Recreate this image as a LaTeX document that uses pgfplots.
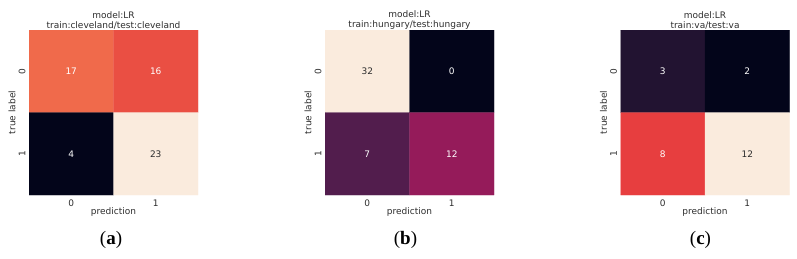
\documentclass[border=0pt]{standalone}
\usepackage{pgfplots}
\pgfplotsset{compat=1.18}
\usepackage{fontspec}
\setmainfont{DejaVu Sans}
\newfontfamily\capfont{Liberation Serif}
\definecolor{txt}{RGB}{45,45,45}
\newcommand{\ff}{\fontsize{9}{10}\selectfont}
\pgfplotsset{
  colormap={rocket}{rgb255=(3,5,26) rgb255=(34,19,49) rgb255=(75,28,75) rgb255=(113,31,87) rgb255=(161,26,91) rgb255=(203,27,79) rgb255=(231,62,63) rgb255=(242,115,77) rgb255=(246,156,115) rgb255=(247,199,168) rgb255=(250,235,221)},
  cm/.style={
    scale only axis, width=169pt, height=165pt, anchor=south west,
    xmin=-0.5, xmax=1.5, ymin=-0.5, ymax=1.5, y dir=reverse,
    enlargelimits=false, axis line style={draw=none}, major tick length=0pt,
    xtick={0,1}, ytick={0,1}, xticklabels={0,1}, yticklabels={0,1},
    /pgf/number format/assume math mode=true,
    ticklabel style={font=\ff, text=txt},
    xticklabel style={yshift=-1.5pt},
    yticklabel style={rotate=90, anchor=south},
    xlabel=prediction, ylabel=true label,
    xlabel style={at={(axis description cs:0.5,-0.103)}, anchor=center, font=\ff, text=txt},
    ylabel style={at={(axis description cs:-0.1,0.5)}, anchor=center, font=\ff, text=txt},
    title style={at={(axis description cs:0.5,1)}, anchor=south, inner sep=0pt, yshift=-6pt, align=center, font=\ff, text=txt},
    colormap name=rocket,
  },
  wtxt/.style={draw=none, mark=none, nodes near coords, point meta=explicit symbolic, nodes near coords align=center, every node near coord/.append style={text=white, font=\ff}},
  dtxt/.style={draw=none, mark=none, nodes near coords, point meta=explicit symbolic, nodes near coords align=center, every node near coord/.append style={text=txt, font=\ff}},
}
\begin{document}
\begin{tikzpicture}
\useasboundingbox (0,0) rectangle (797pt,258pt);
% (a)
\begin{axis}[cm, at={(29pt,63pt)}, point meta min=4, point meta max=23,
  title={model:LR\\train:cleveland/test:cleveland}]
\addplot[matrix plot*, mesh/cols=2, point meta=explicit] table[row sep=\\, meta=v]{x y v\\ 0 0 17\\ 1 0 16\\ 0 1 4\\ 1 1 23\\};
\addplot[wtxt] table[row sep=\\, meta=v]{x y v\\ 0 0 17\\ 1 0 16\\ 0 1 4\\};
\addplot[dtxt] table[row sep=\\, meta=v]{x y v\\ 1 1 23\\};
\end{axis}
% (b)
\begin{axis}[cm, at={(325pt,63pt)}, point meta min=0, point meta max=32,
  title={model:LR\\train:hungary/test:hungary}]
\addplot[matrix plot*, mesh/cols=2, point meta=explicit] table[row sep=\\, meta=v]{x y v\\ 0 0 32\\ 1 0 0\\ 0 1 7\\ 1 1 12\\};
\addplot[wtxt] table[row sep=\\, meta=v]{x y v\\ 1 0 0\\ 0 1 7\\ 1 1 12\\};
\addplot[dtxt] table[row sep=\\, meta=v]{x y v\\ 0 0 32\\};
\end{axis}
% (c)
\begin{axis}[cm, at={(620.5pt,63pt)}, point meta min=2, point meta max=12,
  title={model:LR\\train:va/test:va}]
\addplot[matrix plot*, mesh/cols=2, point meta=explicit] table[row sep=\\, meta=v]{x y v\\ 0 0 3\\ 1 0 2\\ 0 1 8\\ 1 1 12\\};
\addplot[wtxt] table[row sep=\\, meta=v]{x y v\\ 0 0 3\\ 1 0 2\\ 0 1 8\\};
\addplot[dtxt] table[row sep=\\, meta=v]{x y v\\ 1 1 12\\};
\end{axis}
\node[font=\capfont\fontsize{19}{22}\selectfont] at (111pt,18pt) {({\bfseries a})};
\node[font=\capfont\fontsize{19}{22}\selectfont] at (405.5pt,18pt) {({\bfseries b})};
\node[font=\capfont\fontsize{19}{22}\selectfont] at (700.5pt,18pt) {({\bfseries c})};
\end{tikzpicture}
\end{document}
